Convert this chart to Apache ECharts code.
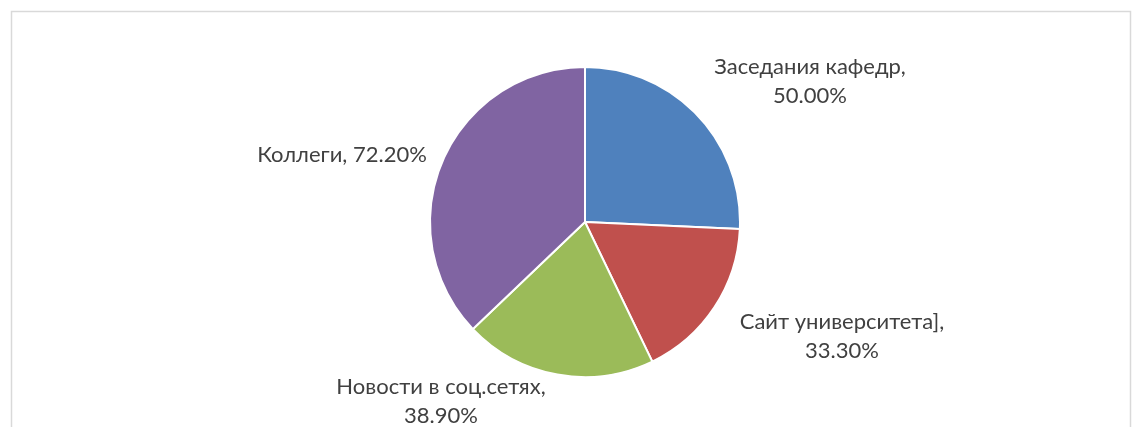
<!DOCTYPE html>
<html>
<head>
<meta charset="utf-8">
<script src="https://cdn.jsdelivr.net/npm/echarts@6/dist/echarts.min.js"></script>
<style>
  html, body { margin: 0; padding: 0; background: #fff; }
  #main { width: 1140px; height: 427px; }
</style>
</head>
<body>
<div id="main"></div>
<script>
// данные диаграммы
const categories = ["Заседания кафедр", "Сайт университета]", "Новости в соц.сетях", "Коллеги"];
const values = [50.0, 33.3, 38.9, 72.2];
const colors = ["#4F81BD", "#C0504D", "#9BBB59", "#8064A2"];
// где стоят подписи (центр текста)
const labelSpots = [[810, 81], [842, 336], [441, 401], [342, 155]];
const labelTwoLines = [true, true, true, false];

const myChart = echarts.init(document.getElementById("main"));

const option = {
  animation: false,
  graphic: [
    {
      type: "rect",
      shape: { x: 11.5, y: 11.5, width: 1119, height: 430 },
      style: { fill: "none", stroke: "#d9d9d9", lineWidth: 1.5 },
      silent: true
    }
  ],
  series: [
    {
      type: "pie",
      center: [585, 222],
      radius: [0, 155],
      startAngle: 90,
      clockwise: true,
      avoidLabelOverlap: false,
      itemStyle: { borderColor: "#fff", borderWidth: 2 },
      label: {
        show: true,
        position: "outside",
        color: "#404040",
        fontFamily: "Lato",
        fontSize: 22,
        lineHeight: 29,
        align: "center",
        formatter: (p) => {
          const sep = labelTwoLines[p.dataIndex] ? ",\n" : ", ";
          return p.name + sep + p.value.toFixed(2) + "%";
        }
      },
      labelLine: { show: false },
      labelLayout: (params) => {
        const s = labelSpots[params.dataIndex];
        return { x: s[0], y: s[1], align: "center", verticalAlign: "middle" };
      },
      data: categories.map((c, i) => ({
        name: c,
        value: values[i],
        itemStyle: { color: colors[i] }
      }))
    }
  ]
};
myChart.setOption(option);
</script>
</body>
</html>
